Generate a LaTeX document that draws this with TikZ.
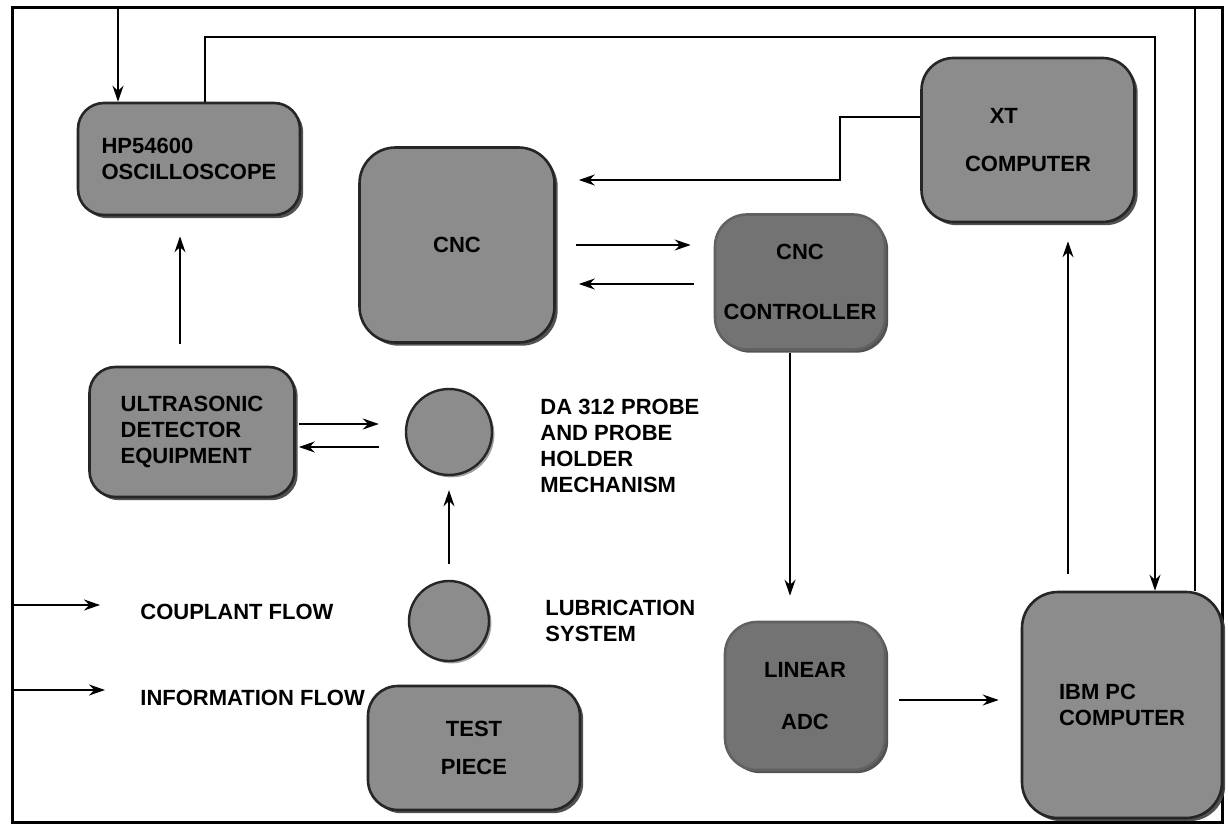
\documentclass[tikz,border=0pt]{standalone}
\usepackage{fontspec}
\setmainfont{Liberation Sans}
\usetikzlibrary{arrows.meta,shadows}
\begin{document}
\begin{tikzpicture}[x=0.5pt,y=-0.5pt,
  txt/.style={font=\bfseries\fontsize{11}{13}\selectfont},
  box/.style={txt, draw=black!85, line width=1.3pt, fill=black!45, rounded corners=13pt,
    align=center, inner sep=2pt,
    drop shadow={shadow xshift=1.6pt, shadow yshift=-1.6pt, fill=black!75, opacity=0.9}},
  soft/.style={box, fill=black!55, draw=black!62},
  disc/.style={circle, draw=black!85, line width=1.2pt, fill=black!45, inner sep=0pt,
    drop shadow={shadow xshift=1.2pt, shadow yshift=-1.2pt, fill=black!75}},
  lbl/.style={txt, anchor=west, align=left, inner sep=0pt},
  arr/.style={-{Stealth[length=8pt,width=5.5pt]}, line width=0.8pt},
  wire/.style={line width=1pt}]
\useasboundingbox (0,0) rectangle (1228,824);
\fill[white] (0,0) rectangle (1228,824);
% frame
\draw[line width=1.5pt] (12,8) rectangle (1222,822);

% nodes
\node[box, minimum width=111pt, minimum height=56pt, align=left] (osc) at (189,159) {HP54600\\OSCILLOSCOPE};
\node[box, minimum width=97.5pt, minimum height=97.5pt, rounded corners=18pt] (cnc) at (457,245) {CNC};
\node[soft, minimum width=85pt, minimum height=67.5pt, rounded corners=16pt] (ctrl) at (800,282) {CNC\\[17pt]CONTROLLER};
\node[box, minimum width=106.5pt, minimum height=82pt, rounded corners=16pt] (xt) at (1028,140) {XT\hspace{2.2em}\null\\[11pt]COMPUTER};
\node[box, minimum width=102.5pt, minimum height=65pt, align=left] (ultra) at (192,432) {ULTRASONIC\\DETECTOR\\EQUIPMENT};
\node[disc, minimum size=43pt] (probe) at (449,432) {};
\node[disc, minimum size=40pt] (lub) at (449,621) {};
\node[box, minimum width=106pt, minimum height=62pt, rounded corners=15pt] (test) at (474,748) {TEST\\[6pt]PIECE};
\node[soft, minimum width=80pt, minimum height=74pt, rounded corners=16pt] (lin) at (805,696) {LINEAR\\[13pt]ADC};
\node[box, minimum width=100pt, minimum height=113pt, rounded corners=18pt, align=left] (ibm) at (1122,705) {IBM PC\\COMPUTER};

% labels
\node[lbl] (plbl) at (540,446) {DA 312 PROBE\\AND PROBE\\HOLDER\\MECHANISM};
\node[lbl] (llbl) at (545,621) {LUBRICATION\\SYSTEM};
\node[lbl] (cf) at (140,612) {COUPLANT FLOW};
\node[lbl] (inf) at (140,698) {INFORMATION FLOW};

% coordinates
\coordinate (x118) at (118,8);
\coordinate (x1195) at (1195,8);
\coordinate (x205) at (205,37);
\coordinate (x1155) at (1155,37);
\coordinate (x180) at (180,0);
\coordinate (y424) at (0,424);
\coordinate (y447) at (0,447);
\coordinate (y245) at (0,245);
\coordinate (y284) at (0,284);
\coordinate (k1) at (840,117);
\coordinate (k2) at (840,180);
\coordinate (x790) at (790,0);
\coordinate (y700) at (0,700);
\coordinate (x1068) at (1068,0);
\coordinate (lg1) at (12,605);
\coordinate (lg2) at (12,690);

% connectors
\draw[arr, wire] (ibm.north -| x1195) -- (x1195) -- (x118) -- (osc.north -| x118);
\draw[arr, wire] (osc.north -| x205) -- (x205) -- (x1155) -- (ibm.north -| x1155);
\draw[arr, shorten <=11pt, shorten >=10pt] (ultra.north -| x180) -- (osc.south -| x180);
\draw[arr, shorten <=1.5pt, shorten >=13pt] (ultra.east |- y424) -- (probe.west |- y424);
\draw[arr, shorten <=13pt, shorten >=1.5pt] (probe.west |- y447) -- (ultra.east |- y447);
\draw[arr, shorten <=8pt, shorten >=7pt] (lub.north) -- (probe.south);
\draw[arr, shorten <=10pt, shorten >=11.5pt] (cnc.east |- y245) -- (ctrl.west |- y245);
\draw[arr, shorten <=10pt, shorten >=11.5pt] (ctrl.west |- y284) -- (cnc.east |- y284);
\draw[arr, shorten >=11.5pt] (xt.west |- k1) -- (k1) -- (k2) -- (cnc.east |- k2);
\draw[arr, shorten <=1pt, shorten >=12.5pt] (ctrl.south -| x790) -- (lin.north -| x790);
\draw[arr, shorten <=6.5pt, shorten >=11pt] (lin.east |- y700) -- (ibm.west |- y700);
\draw[arr, shorten <=8.5pt, shorten >=9pt] (ibm.north -| x1068) -- (xt.south -| x1068);
\draw[arr] (lg1) -- ++(88,0);
\draw[arr, wire] (lg2) -- ++(93,0);
\end{tikzpicture}
\end{document}
